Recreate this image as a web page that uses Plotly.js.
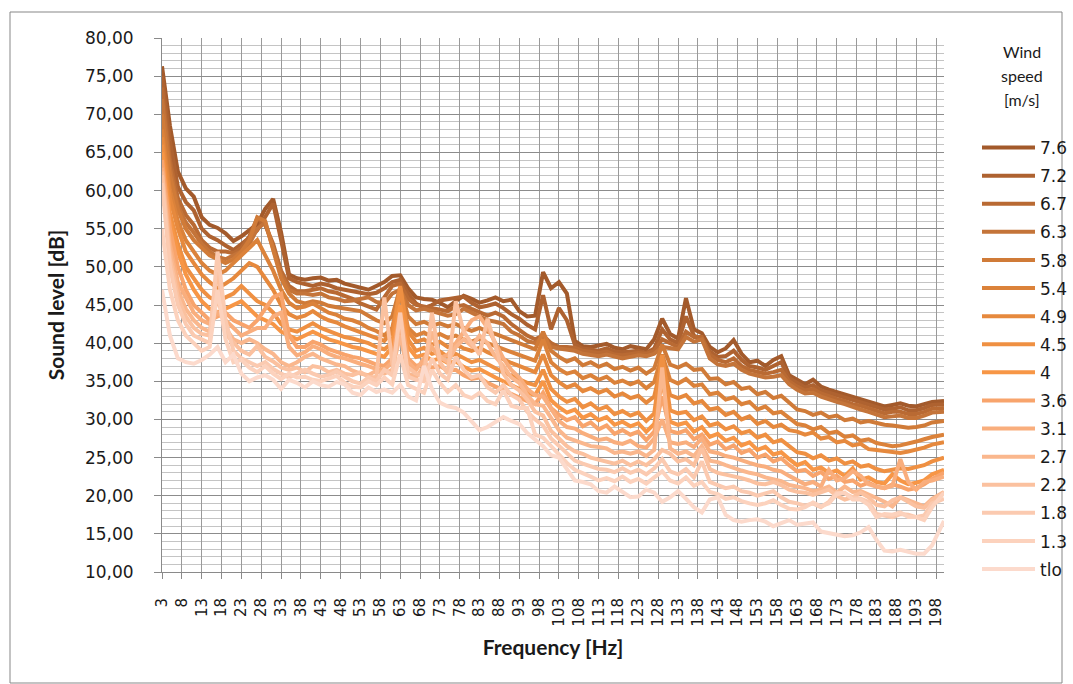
<!DOCTYPE html>
<html>
<head>
<meta charset="utf-8">
<script src="https://cdn.plot.ly/plotly-3.0.1.min.js"></script>
<style>
html,body{margin:0;padding:0;background:#fff;}
#chart{width:1073px;height:684px;}
</style>
</head>
<body>
<div id="chart"></div>
<script>
const freq = [3,5,7,9,11,13,15,17,19,21,23,25,27,29,31,33,35,37,39,41,43,45,47,49,51,53,55,57,59,61,63,65,67,69,71,73,75,77,79,81,83,85,87,89,91,93,95,97,99,101,103,105,107,109,111,113,115,117,119,121,123,125,127,129,131,133,135,137,139,141,143,145,147,149,151,153,155,157,159,161,163,165,167,169,171,173,175,177,179,181,183,185,187,189,191,193,195,197,200];

const tickFreqs = [3,8,13,18,23,28,33,38,43,48,53,58,63,68,73,78,83,88,93,98,103,108,113,118,123,128,133,138,143,148,153,158,163,168,173,178,183,188,193,198];

const seriesNames = ["7.6","7.2","6.7","6.3","5.8","5.4","4.9","4.5","4","3.6","3.1","2.7","2.2","1.8","1.3","tlo"];
const seriesColors = ["#A35A2B","#AE6230","#B96A33","#C47439","#D07B38","#DB823A","#E6893D","#EF9042","#F79646","#F8A46C","#F9AE7D","#FAB78D","#FBC19F","#FBCAB0","#FCD2BD","#FCDACC"];

const s76 = [76.3,68.5,62.5,60.3,59.2,56.5,55.5,55.1,54.4,53.4,
 54.0,54.8,55.6,57.6,58.9,54.5,49.0,48.5,48.3,48.5,
 48.6,48.2,48.3,47.8,47.5,47.2,47.0,47.5,48.0,48.8,
 48.9,47.2,46.0,45.8,45.7,45.3,44.7,45.5,46.2,45.8,
 45.3,45.6,46.0,45.5,45.7,44.2,43.5,43.6,49.3,47.2,
 48.0,46.5,40.3,39.6,39.5,39.7,39.9,39.4,39.2,39.6,
 39.4,39.2,40.5,43.2,41.2,40.6,45.9,41.8,41.3,39.5,
 38.8,39.3,40.4,38.6,37.5,37.7,37.0,37.8,38.3,35.8,
 35.2,34.6,35.2,34.3,33.9,33.6,33.3,33.0,32.7,32.4,
 32.0,31.7,31.9,32.1,31.8,31.7,32.0,32.3,32.4];
const s72 = [75.0,66.5,60.5,58.5,57.4,55.0,54.0,53.5,52.8,52.2,
 53.0,53.8,54.8,56.6,58.3,53.5,48.5,48.0,47.8,47.5,
 47.8,47.6,47.2,47.0,46.8,46.6,46.4,46.6,47.2,48.0,
 48.3,46.5,45.2,44.6,45.0,45.6,45.8,46.0,46.1,45.3,
 44.7,44.9,45.2,44.6,43.8,43.2,42.4,41.8,46.3,41.8,
 44.6,43.0,39.8,39.3,39.2,39.0,39.3,38.9,38.8,38.9,
 39.0,38.7,39.3,41.8,40.5,40.0,43.5,41.0,40.5,38.9,
 38.2,38.3,39.0,37.8,37.0,36.8,36.5,37.0,37.5,35.4,
 34.8,34.2,34.5,33.8,33.5,33.2,32.9,32.6,32.3,32.0,
 31.7,31.3,31.4,31.6,31.2,31.2,31.5,31.9,32.0];
const s67 = [73.5,64.0,59.0,56.8,55.5,53.5,52.5,52.0,52.0,51.8,
 52.5,54.0,56.4,55.5,53.0,49.5,47.5,46.8,46.8,47.0,
 47.2,46.8,46.6,46.2,45.8,45.2,44.8,44.4,46.0,47.5,
 47.8,45.8,45.0,44.8,44.6,44.5,44.2,44.8,45.0,44.5,
 44.0,43.6,44.0,43.5,42.5,41.8,41.0,40.5,41.0,40.0,
 39.5,39.5,39.4,39.0,38.8,38.7,38.9,38.5,38.4,38.5,
 38.7,38.6,39.0,40.5,40.0,39.5,41.5,40.8,40.8,38.5,
 37.8,37.5,38.0,37.0,36.5,36.2,36.0,36.2,36.5,35.0,
 34.3,33.8,34.0,33.4,33.0,32.7,32.4,32.0,31.8,31.5,
 31.2,30.8,31.0,31.0,30.7,30.7,31.0,31.4,31.5];
const s63 = [72.0,63.0,58.0,55.8,54.5,53.0,52.0,51.3,51.0,51.5,
 52.0,53.0,55.0,55.8,52.5,49.0,47.0,46.5,46.5,46.3,
 46.5,46.0,45.8,45.5,45.6,45.8,46.0,45.4,45.2,46.5,
 47.0,45.0,44.3,44.5,44.2,44.0,43.6,43.8,44.5,44.0,
 43.5,43.0,42.8,42.5,41.5,41.0,40.3,40.0,40.8,39.5,
 39.3,39.2,39.0,38.6,38.4,38.3,38.5,38.2,38.0,38.2,
 38.4,38.3,38.6,39.5,39.3,39.2,40.8,40.2,40.5,38.0,
 37.2,37.0,37.3,36.5,36.0,35.7,35.5,35.6,35.8,34.6,
 33.9,33.4,33.5,33.0,32.6,32.3,32.0,31.6,31.3,31.0,
 30.7,30.3,30.4,30.5,30.2,30.2,30.5,30.9,31.0];
const s58 = [70.0,62.0,57.5,55.0,53.5,52.5,51.5,51.0,50.5,51.0,
 52.0,53.5,56.5,56.0,52.0,48.5,46.5,45.5,45.2,45.5,
 45.3,44.9,44.7,44.5,44.3,44.2,43.6,43.0,42.6,43.5,
 47.3,43.5,42.5,42.8,42.3,42.6,42.2,42.5,42.0,41.6,
 42.0,41.5,41.2,40.8,40.3,40.0,39.5,39.2,41.5,39.0,
 38.2,37.6,38.0,37.1,37.5,36.9,37.3,36.6,36.9,36.4,
 36.8,36.0,36.7,39.8,37.2,36.8,37.3,36.5,36.6,35.3,
 35.4,34.6,34.9,34.0,34.2,33.3,33.6,32.8,33.1,32.2,
 31.3,31.1,30.6,30.9,30.3,30.5,29.9,30.1,29.6,29.8,
 29.5,29.3,29.2,29.0,28.9,29.0,29.2,29.6,29.8];
const s54 = [68.0,60.0,56.0,53.5,52.0,50.5,49.5,49.0,49.5,50.5,
 51.5,52.5,53.5,51.5,49.5,47.0,45.3,44.6,44.8,45.2,
 44.6,44.0,43.7,43.2,43.0,42.6,42.0,41.6,41.0,42.0,
 46.5,42.0,41.0,41.4,40.8,41.2,40.7,41.0,40.5,40.2,
 40.6,40.0,39.6,39.2,38.8,38.4,38.0,37.7,40.5,37.5,
 36.6,36.0,36.3,35.4,35.8,35.2,35.6,34.8,35.1,34.6,
 35.0,34.1,34.9,38.5,35.2,34.7,35.3,34.4,34.6,33.3,
 33.5,32.6,32.9,32.0,32.3,31.3,31.7,30.8,31.0,30.2,
 29.4,29.2,28.7,29.0,28.2,28.4,27.7,27.9,27.2,27.4,
 26.9,26.7,26.5,26.6,26.8,27.1,27.4,27.7,28.0];
const s49 = [67.0,59.0,55.0,52.0,50.5,49.0,48.0,47.2,47.8,48.5,
 49.5,50.5,50.0,48.5,47.0,45.0,43.8,43.3,43.6,44.2,
 43.5,43.0,42.7,42.2,41.8,41.5,41.0,40.6,40.3,41.5,
 47.2,41.5,40.2,40.5,39.8,40.2,39.5,39.9,39.3,39.0,
 39.4,38.8,38.4,37.9,37.4,37.0,36.5,36.2,38.5,35.8,
 34.9,34.2,34.6,33.7,34.1,33.5,33.9,33.0,33.4,32.8,
 33.1,32.2,33.0,37.5,33.2,32.8,33.2,32.1,32.4,31.3,
 31.5,30.6,31.0,30.0,30.4,29.4,29.8,29.0,29.3,28.6,
 28.4,28.0,28.3,27.5,27.7,27.0,27.2,26.6,26.8,26.1,
 26.0,25.9,25.8,25.6,25.8,26.0,26.3,26.7,27.0];
const s45 = [66.0,57.0,53.0,50.0,48.5,47.0,46.0,45.5,46.0,46.5,
 47.5,46.5,45.5,45.0,44.0,42.5,41.8,41.5,42.0,42.6,
 42.0,41.6,41.2,40.8,40.6,40.3,40.0,39.5,39.2,40.0,
 47.5,40.5,39.0,39.4,38.6,38.9,38.2,38.6,38.0,37.5,
 37.8,37.2,36.7,36.2,35.7,35.3,34.8,34.5,36.5,34.0,
 33.0,32.3,32.7,31.6,32.1,31.3,31.7,30.7,31.1,30.5,
 30.9,29.8,30.8,38.4,31.2,30.8,31.0,29.9,30.4,29.2,
 29.5,28.7,29.1,28.2,28.5,27.6,28.0,27.0,27.3,26.5,
 25.7,25.5,24.9,25.3,24.6,24.9,24.2,24.5,23.8,24.0,
 23.5,23.2,23.4,23.6,23.5,23.8,24.0,24.5,25.0];
const s40 = [65.0,56.0,52.0,49.0,47.0,45.5,44.5,44.0,44.5,45.0,
 45.5,44.5,43.5,43.0,42.5,41.5,41.0,40.5,41.0,41.5,
 41.0,40.5,40.2,39.8,39.5,39.3,39.0,38.6,38.2,39.5,
 45.0,39.5,38.2,38.5,37.7,38.0,37.4,37.6,36.9,36.4,
 36.6,36.0,35.5,35.0,34.5,34.0,33.5,33.2,35.0,32.5,
 31.6,30.9,31.3,30.2,30.7,29.9,30.3,29.3,29.7,29.1,
 29.5,28.4,29.4,35.0,29.7,29.3,29.6,28.4,29.0,27.7,
 28.1,27.2,27.6,26.6,27.0,26.0,26.4,25.4,25.7,24.8,
 24.0,24.4,23.4,23.7,23.0,23.3,22.6,23.6,22.1,22.4,
 21.8,21.6,22.8,22.0,21.5,21.7,22.0,22.8,23.4];
const s36 = [64.0,55.0,50.0,47.0,45.0,44.0,43.0,43.5,44.0,43.0,
 42.5,42.0,43.0,44.5,46.0,46.5,41.0,39.5,39.5,40.2,
 39.8,39.2,38.8,38.5,38.2,38.0,37.6,37.2,37.0,38.0,
 44.0,38.0,37.0,37.3,36.8,37.0,36.4,36.5,35.8,35.3,
 35.5,34.8,34.3,33.8,33.3,32.8,32.4,32.0,33.5,31.5,
 30.6,29.9,30.3,29.1,29.6,28.7,29.2,28.1,28.6,28.0,
 28.4,27.3,28.4,33.0,28.5,28.2,28.6,27.4,28.0,26.7,
 27.1,26.1,26.6,25.6,26.0,25.0,25.4,24.5,24.9,24.0,
 23.2,23.4,22.6,23.1,22.2,22.6,21.8,22.0,21.3,21.7,
 21.2,21.0,21.5,21.2,20.8,21.0,21.5,22.2,23.0];
const s31 = [63.0,53.0,48.0,46.0,44.0,43.0,42.5,44.0,43.0,42.0,
 41.0,41.5,42.0,42.0,43.5,44.0,39.5,38.4,38.8,39.6,
 39.2,38.6,38.2,38.0,37.6,37.3,37.0,36.6,36.5,37.5,
 42.0,37.5,36.5,38.0,39.5,38.0,38.5,40.0,41.5,43.0,
 43.5,42.0,40.0,38.0,36.5,35.5,34.0,33.2,33.0,31.5,
 29.8,29.0,28.8,28.2,27.8,27.3,27.5,27.0,26.8,27.2,
 26.5,26.3,27.5,30.0,27.0,26.8,27.0,26.4,27.5,25.8,
 25.6,25.2,25.0,24.6,24.3,24.0,23.8,23.4,23.2,22.6,
 22.0,21.5,21.8,21.2,23.4,22.0,22.3,23.2,22.6,21.5,
 21.2,21.0,21.3,24.8,21.8,20.8,21.8,22.0,22.5];
const s27 = [62.5,52.0,47.0,44.5,43.0,42.0,41.5,46.0,42.0,40.5,
 40.0,40.5,40.0,39.2,38.6,37.5,37.0,37.5,38.2,38.6,
 38.0,37.6,37.2,37.0,36.4,36.0,35.8,36.4,36.0,36.5,
 41.0,36.0,35.5,37.0,41.5,38.2,37.5,39.5,40.5,39.6,
 41.0,40.0,38.2,37.0,35.5,34.8,33.2,32.0,31.8,30.2,
 28.6,27.6,27.2,26.8,26.5,26.4,26.2,25.6,25.8,25.5,
 25.8,25.2,26.0,36.8,26.2,25.5,25.8,25.2,26.5,24.6,
 24.4,24.0,23.6,23.3,23.0,22.8,22.4,22.2,21.9,21.4,
 21.2,21.0,20.6,20.8,21.2,20.4,21.2,20.5,20.6,20.2,
 19.7,19.2,18.6,19.8,19.4,19.0,18.6,19.6,20.5];
const s22 = [62.0,51.0,46.0,43.5,42.0,41.2,41.0,50.0,41.2,40.0,
 39.0,38.5,39.6,38.2,37.6,36.8,36.5,36.8,36.2,37.0,
 36.8,36.2,36.5,36.0,35.8,36.2,35.6,35.5,46.0,37.5,
 38.0,36.8,36.0,35.6,44.0,37.5,36.0,45.5,41.5,40.0,
 38.5,43.2,39.5,36.0,34.5,33.8,32.6,31.0,30.5,28.5,
 27.5,26.5,25.8,25.5,25.0,24.7,24.5,24.2,24.6,24.0,
 24.5,24.0,24.8,26.0,25.5,24.5,24.8,24.0,26.2,23.5,
 23.0,22.8,22.6,22.3,22.0,21.6,21.5,21.8,21.4,20.8,
 20.5,20.4,20.1,20.4,20.8,20.0,19.5,19.8,20.4,19.8,
 18.8,18.6,19.4,19.8,19.2,18.6,18.4,19.4,20.4];
const s18 = [61.0,50.0,45.0,42.5,41.0,40.5,40.0,52.0,43.0,39.0,
 38.0,37.5,37.0,37.5,36.6,36.0,35.5,36.0,36.5,36.0,
 35.6,35.8,36.3,35.6,35.0,34.7,35.5,35.0,36.5,35.8,
 44.0,35.6,35.2,35.0,38.0,36.0,35.2,38.2,36.5,35.5,
 35.8,34.2,33.5,34.5,33.2,32.6,31.0,30.0,29.2,27.5,
 26.5,25.5,24.6,24.2,23.8,23.5,23.4,23.1,23.6,23.0,
 23.4,22.8,23.6,24.8,23.2,22.8,23.5,22.4,24.5,21.8,
 21.4,21.0,21.2,20.6,20.4,20.0,20.3,20.6,19.8,19.2,
 19.0,18.7,19.0,18.5,19.2,20.4,20.3,19.8,19.6,19.2,
 17.6,17.4,17.2,17.6,17.5,17.2,17.4,19.0,19.6];
const s13 = [55.0,47.0,43.0,41.0,40.0,39.0,39.5,47.0,40.5,37.5,
 37.8,36.8,36.2,37.0,36.0,35.3,36.0,35.5,35.6,35.2,
 35.0,35.4,35.7,34.8,34.3,34.2,35.0,34.5,35.5,34.6,
 38.5,34.5,34.0,33.5,36.5,34.8,33.6,34.5,33.2,32.8,
 33.5,32.4,32.0,33.8,31.8,31.5,31.5,28.0,27.6,26.5,
 25.4,24.3,23.4,23.0,22.5,22.0,22.3,21.9,22.5,21.8,
 22.2,21.6,22.4,23.2,22.0,21.6,22.4,21.3,21.8,20.5,
 20.2,19.6,19.8,19.3,19.0,18.8,19.0,19.4,18.8,18.3,
 18.2,18.5,19.1,18.6,19.0,20.2,20.4,19.5,19.5,18.8,
 17.2,17.6,17.5,17.8,17.2,17.2,16.8,18.5,20.4];
const sTlo = [47.0,41.0,38.0,37.5,37.3,37.8,38.5,39.5,37.5,38.5,
 36.0,35.0,35.5,35.8,35.2,34.0,35.2,34.8,34.2,35.0,
 34.5,34.3,34.9,34.6,33.5,33.2,34.2,33.6,33.9,33.5,
 34.5,33.0,32.5,37.0,34.0,32.2,31.7,31.5,30.9,29.8,
 28.6,29.0,29.7,30.3,29.8,29.4,28.2,27.3,26.5,25.3,
 25.0,23.5,22.0,21.8,21.5,20.6,20.4,21.2,20.5,19.8,
 19.9,20.8,20.4,19.2,19.8,20.6,19.6,18.5,17.8,19.5,
 19.8,17.5,16.8,16.6,16.8,16.9,16.6,16.0,16.4,16.8,
 16.2,16.4,16.5,15.3,15.1,14.9,14.7,14.8,15.2,15.9,
 14.2,12.8,12.7,12.9,12.6,12.4,12.4,13.5,16.7];

const allSeries = [s76,s72,s67,s63,s58,s54,s49,s45,s40,s36,s31,s27,s22,s18,s13,sTlo];

const traces = allSeries.map((vals, i) => ({
  type: 'scatter',
  mode: 'lines',
  x: freq,
  y: vals,
  name: seriesNames[i],
  legendgroup: 'g' + i,
  line: {color: seriesColors[i], width: 4, shape: 'linear'},
  hoverinfo: 'x+y+name'
}));

const tickFont = {family: 'DejaVu Sans, Verdana, sans-serif', size: 17, color: '#1a1a1a'};
const titleFont = {family: 'Lato, Carlito, sans-serif', size: 21, color: '#1a1a1a', weight: 'bold'};

const layout = {
  width: 1073,
  height: 684,
  margin: {l: 162, r: 129, t: 38, b: 112},
  paper_bgcolor: '#ffffff',
  plot_bgcolor: '#ffffff',
  separators: ', ',
  showlegend: true,
  xaxis: {
    type: 'linear',
    range: [3, 200],
    tickmode: 'array',
    tickvals: tickFreqs,
    ticktext: tickFreqs.map(String),
    tickangle: -90,
    tickfont: {family: 'DejaVu Sans, Verdana, sans-serif', size: 15, color: '#1a1a1a'},
    ticks: 'outside',
    ticklen: 6,
    tickcolor: '#8a8a8a',
    ticklabelstandoff: 13,
    showgrid: true,
    gridcolor: '#9a9a9a',
    gridwidth: 1,
    showline: true,
    linecolor: '#8a8a8a',
    linewidth: 1,
    zeroline: false,
    fixedrange: true,
    title: {text: '<b>Frequency [Hz]</b>', font: titleFont, standoff: 14}
  },
  yaxis: {
    range: [10, 80],
    tickmode: 'linear',
    tick0: 10,
    dtick: 5,
    tickformat: '.2f',
    tickfont: tickFont,
    ticks: 'outside',
    ticklen: 7,
    tickcolor: '#8a8a8a',
    ticklabelstandoff: 17,
    showgrid: true,
    gridcolor: '#8c8c8c',
    gridwidth: 1,
    minor: {dtick: 1, tick0: 10, showgrid: true, gridcolor: '#c4c4c4', gridwidth: 1, ticks: ''},
    showline: true,
    linecolor: '#8a8a8a',
    linewidth: 1,
    zeroline: false,
    fixedrange: true,
    title: {text: '<b>Sound level [dB]</b>', font: titleFont, standoff: 14}
  },
  legend: {
    xref: 'container',
    yref: 'container',
    x: 977 / 1073,
    xanchor: 'left',
    y: 1 - 130 / 684,
    yanchor: 'top',
    maxheight: 640,
    bgcolor: 'rgba(0,0,0,0)',
    font: {family: 'DejaVu Sans, Verdana, sans-serif', size: 17, color: '#1a1a1a'},
    tracegroupgap: 3,
    itemwidth: 53,
    traceorder: 'grouped'
  },
  annotations: [
    {xref: 'paper', yref: 'paper', x: 1.0997, y: (572 - 52) / 534, text: 'Wind', showarrow: false, xanchor: 'center', yanchor: 'middle', font: {family: 'Lato, sans-serif', size: 16, color: '#1a1a1a'}},
    {xref: 'paper', yref: 'paper', x: 1.0997, y: (572 - 76) / 534, text: 'speed', showarrow: false, xanchor: 'center', yanchor: 'middle', font: {family: 'Lato, sans-serif', size: 16, color: '#1a1a1a'}},
    {xref: 'paper', yref: 'paper', x: 1.0997, y: (572 - 100) / 534, text: '[m/s]', showarrow: false, xanchor: 'center', yanchor: 'middle', font: {family: 'Lato, sans-serif', size: 16, color: '#1a1a1a'}}
  ],
  shapes: [
    {type: 'rect', xref: 'paper', yref: 'paper', x0: (10 - 162) / 782, x1: (1062 - 162) / 782, y0: (572 - 683) / 534, y1: (572 - 12) / 534, line: {color: '#878787', width: 1}, fillcolor: 'rgba(0,0,0,0)', layer: 'below'}
  ]
};

Plotly.newPlot('chart', traces, layout, {staticPlot: true, displayModeBar: false});
</script>
</body>
</html>
